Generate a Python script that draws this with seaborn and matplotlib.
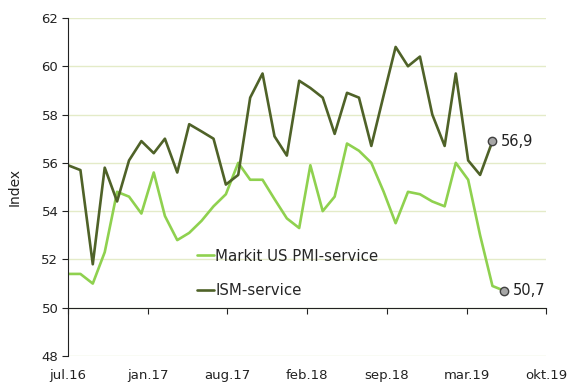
import pandas as pd
import matplotlib
matplotlib.use('Agg')
import matplotlib.pyplot as plt
import seaborn as sns

# monthly readings, first point at jul.16
markit = [51.4, 51.4, 51.0, 52.3, 54.8, 54.6, 53.9, 55.6, 53.8, 52.8, 53.1, 53.6,
          54.2, 54.7, 56.0, 55.3, 55.3, 54.5, 53.7, 53.3, 55.9, 54.0, 54.6, 56.8,
          56.5, 56.0, 54.8, 53.5, 54.8, 54.7, 54.4, 54.2, 56.0, 55.3, 53.0, 50.9,
          50.7]
ism = [55.9, 55.7, 51.8, 55.8, 54.4, 56.1, 56.9, 56.4, 57.0, 55.6, 57.6, 57.3,
       57.0, 55.1, 55.5, 58.7, 59.7, 57.1, 56.3, 59.4, 59.1, 58.7, 57.2, 58.9,
       58.7, 56.7, 58.8, 60.8, 60.0, 60.4, 58.0, 56.7, 59.7, 56.1, 55.5, 56.9]
tick_labels = ['jul.16', 'jan.17', 'aug.17', 'feb.18', 'sep.18', 'mar.19', 'okt.19']
labels = ['Markit US PMI-service', 'ISM-service']
colors = ['#8fd14f', '#4f6228']

start = pd.Timestamp('2016-07-01')
markit_df = pd.DataFrame({'date': pd.date_range(start, periods=len(markit), freq='MS'),
                          'value': markit})
ism_df = pd.DataFrame({'date': pd.date_range(start, periods=len(ism), freq='MS'),
                       'value': ism})

sns.set_style('white')
plt.rcParams['font.family'] = ['DejaVu Sans']

fig = plt.figure(figsize=(5.72, 3.82), dpi=100)
ax = fig.add_axes([0.119, 0.068, 0.836, 0.885])

sns.lineplot(ax=ax, x='date', y='value', data=markit_df, color=colors[0],
             linewidth=1.9, label=labels[0])
sns.lineplot(ax=ax, x='date', y='value', data=ism_df, color=colors[1],
             linewidth=1.9, label=labels[1])

# end markers with value labels
for df in [ism_df, markit_df]:
    last = df.iloc[-1]
    ax.plot(last['date'], last['value'], 'o', ms=6, mfc='#a6a6a6', mec='#404040',
            mew=1, zorder=5)
    ax.annotate('{:.1f}'.format(last['value']).replace('.', ','),
                (last['date'], last['value']), xytext=(6, 0),
                textcoords='offset points', va='center', ha='left',
                fontsize=10.5, color='#222222')

ax.set_ylim(48, 62)
ax.set_yticks(range(48, 63, 2))
ax.set_xlim(start, start + pd.Timedelta(days=1200))
ticks = pd.date_range(start, periods=len(tick_labels), freq='200D')
ax.set_xticks(ticks)
ax.set_xticklabels(tick_labels)

ax.yaxis.grid(True, color='#e4ebc8', linewidth=1)
ax.xaxis.grid(False)
ax.set_axisbelow(True)

for s in ['top', 'right']:
    ax.spines[s].set_visible(False)
ax.spines['left'].set_color('#222222')
ax.spines['bottom'].set_color('#222222')
ax.spines['bottom'].set_position(('data', 50))

ax.tick_params(axis='y', direction='out', length=4, color='#222222',
               labelsize=9.5, labelcolor='#222222', left=True, pad=3)
ax.tick_params(axis='x', direction='out', length=4, color='#222222',
               labelsize=9.5, labelcolor='#222222', bottom=True, pad=40)

ax.set_xlabel('')
ax.set_ylabel('Index', fontsize=10, color='#222222', labelpad=14)

ax.legend(loc='upper left', bbox_to_anchor=(0.27, 0.318), frameon=False,
          fontsize=10.8, handlelength=1.15, handletextpad=0.05, labelspacing=1.3,
          borderpad=0, borderaxespad=0)

plt.savefig('out.png', dpi=100)
